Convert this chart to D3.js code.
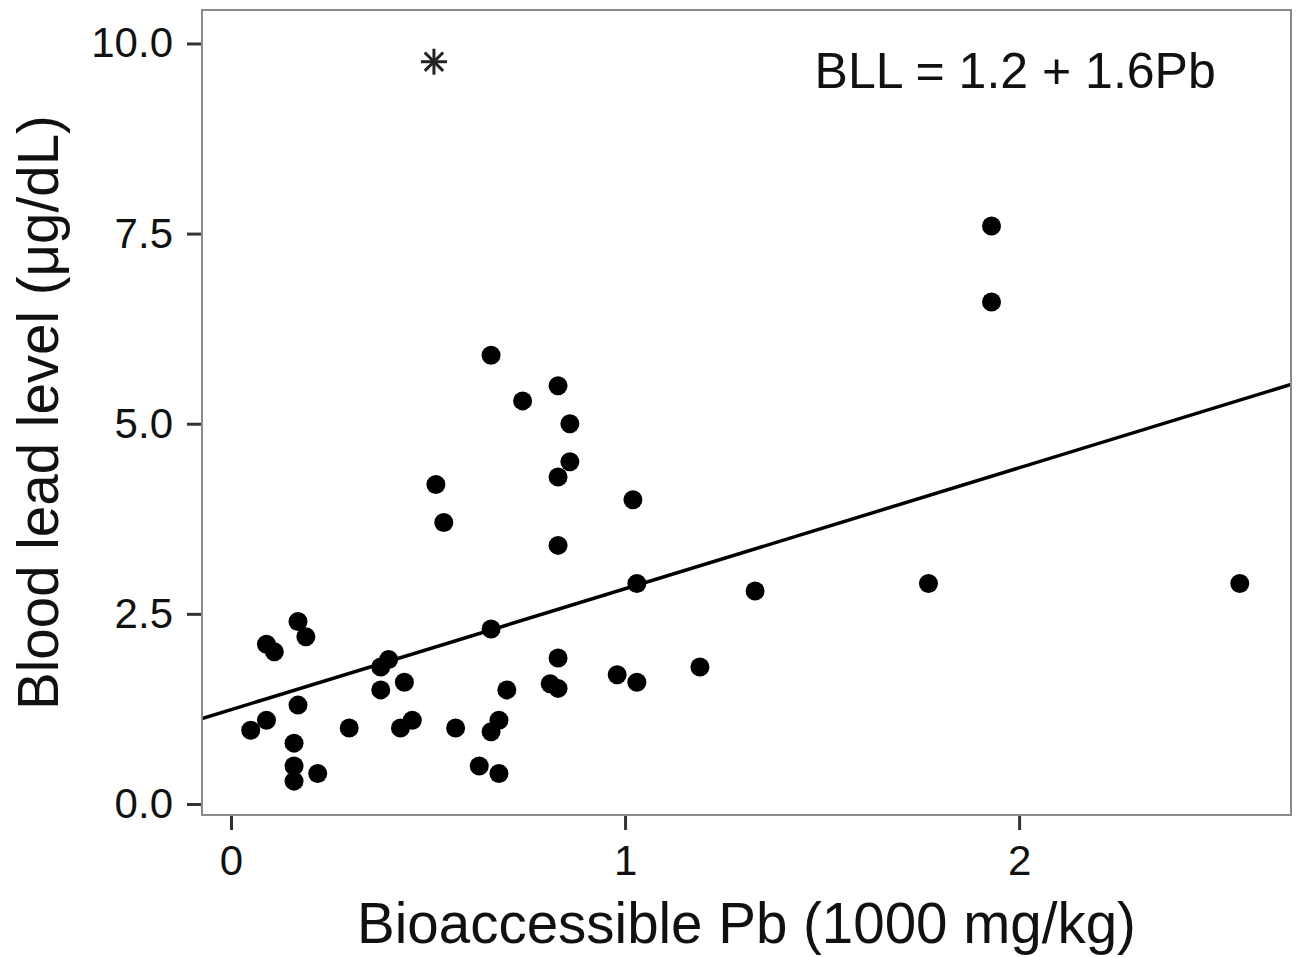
<!DOCTYPE html>
<html>
<head>
<meta charset="utf-8">
<script src="https://cdn.jsdelivr.net/npm/d3@7"></script>
<style>
  body { margin: 0; background: #fff; }
  text { font-family: "Liberation Sans", Arial, sans-serif; fill: #111; }
</style>
</head>
<body>
<div id="container"></div>
<script>
/* CONSTANTS AND GLOBALS */
const width = 1298,
  height = 957,
  margin = { top: 10, bottom: 142, left: 202, right: 7 },
  radius = 9.5;

/* DATA */
const pbValues = [0.05, 0.09, 0.09, 0.11, 0.17, 0.19, 0.17, 0.16, 0.16, 0.16,
  0.22, 0.30, 0.38, 0.38, 0.40, 0.44, 0.43, 0.46, 0.57, 0.63,
  0.68, 0.66, 0.68, 0.70, 0.66, 0.81, 0.83, 0.83, 0.66, 0.83,
  0.74, 0.86, 0.86, 0.83, 0.52, 0.54, 0.83, 1.02, 1.03, 1.19,
  0.98, 1.03, 1.33, 1.77, 1.93, 1.93, 2.56];
const bllValues = [0.97, 1.1, 2.1, 2.0, 2.4, 2.2, 1.3, 0.8, 0.5, 0.3,
  0.4, 1.0, 1.5, 1.8, 1.9, 1.6, 1.0, 1.1, 1.0, 0.5,
  0.4, 0.95, 1.1, 1.5, 2.3, 1.58, 1.52, 1.92, 5.9, 5.5,
  5.3, 5.0, 4.5, 4.3, 4.2, 3.7, 3.4, 4.0, 2.9, 1.8,
  1.7, 1.6, 2.8, 2.9, 7.6, 6.6, 2.9];
const outlier = { pb: 0.515, bll: 9.76 };   // asterisk marker
const intercept = 1.24, slope = 1.59;
const xTicks = [0, 1, 2];
const yTicks = [0, 2.5, 5, 7.5, 10];
const xDomain = [-0.0736, 2.69];
const yDomain = [-0.145, 10.44];
const equationText = "BLL = 1.2 + 1.6Pb";
const xTitle = "Bioaccessible Pb (1000 mg/kg)";
const yTitle = "Blood lead level (\u03bcg/dL)";

const data = pbValues.map((d, i) => ({ pb: d, bll: bllValues[i] }));

/* SCALES */
const xScale = d3.scaleLinear()
  .domain(xDomain)
  .range([margin.left, width - margin.right]);

const yScale = d3.scaleLinear()
  .domain(yDomain)
  .range([height - margin.bottom, margin.top]);

/* SVG */
const svg = d3.select("#container")
  .append("svg")
  .attr("width", width)
  .attr("height", height);

// axes
const xAxis = d3.axisBottom(xScale)
  .tickValues(xTicks)
  .tickFormat(d3.format("d"))
  .tickSize(15)
  .tickPadding(15);

svg.append("g")
  .attr("transform", `translate(0, ${height - margin.bottom})`)
  .call(xAxis)
  .call(g => g.select(".domain").remove())
  .call(g => g.selectAll("line").attr("stroke", "#333").attr("stroke-width", 3))
  .call(g => g.selectAll("text").attr("font-size", 42).attr("fill", "#111"));

const yAxis = d3.axisLeft(yScale)
  .tickValues(yTicks)
  .tickFormat(d3.format(".1f"))
  .tickSize(15)
  .tickPadding(14);

svg.append("g")
  .attr("transform", `translate(${margin.left}, 0)`)
  .call(yAxis)
  .call(g => g.select(".domain").remove())
  .call(g => g.selectAll("line").attr("stroke", "#333").attr("stroke-width", 3))
  .call(g => g.selectAll("text").attr("font-size", 42).attr("fill", "#111"));

// clip for the fit line
svg.append("clipPath")
  .attr("id", "panel")
  .append("rect")
  .attr("x", margin.left)
  .attr("y", margin.top)
  .attr("width", width - margin.left - margin.right)
  .attr("height", height - margin.top - margin.bottom);

// regression line
svg.append("line")
  .attr("clip-path", "url(#panel)")
  .attr("x1", xScale(xDomain[0]))
  .attr("y1", yScale(intercept + slope * xDomain[0]))
  .attr("x2", xScale(xDomain[1]))
  .attr("y2", yScale(intercept + slope * xDomain[1]))
  .attr("stroke", "#000")
  .attr("stroke-width", 3.5);

// points
svg.selectAll(".dot")
  .data(data)
  .join("circle")
  .attr("class", "dot")
  .attr("cx", d => xScale(d.pb))
  .attr("cy", d => yScale(d.bll))
  .attr("r", radius)
  .attr("fill", "#000");

// asterisk
const star = svg.append("g")
  .attr("transform", `translate(${xScale(outlier.pb)}, ${yScale(outlier.bll)})`);
[0, 45, 90, 135].forEach(a => {
  star.append("line")
    .attr("x1", -13).attr("x2", 13)
    .attr("y1", 0).attr("y2", 0)
    .attr("transform", `rotate(${a})`)
    .attr("stroke", "#222")
    .attr("stroke-width", 3);
});

// equation
svg.append("text")
  .attr("x", xScale(1.99))
  .attr("y", yScale(9.42))
  .attr("text-anchor", "middle")
  .attr("font-size", 50)
  .text(equationText);

// panel border
svg.append("rect")
  .attr("x", margin.left)
  .attr("y", margin.top)
  .attr("width", width - margin.left - margin.right)
  .attr("height", height - margin.top - margin.bottom)
  .attr("fill", "none")
  .attr("stroke", "#8a8a8a")
  .attr("stroke-width", 2);

// axis titles
svg.append("text")
  .attr("x", (margin.left + width - margin.right) / 2)
  .attr("y", 943)
  .attr("text-anchor", "middle")
  .attr("font-size", 56.5)
  .text(xTitle);

svg.append("text")
  .attr("transform", `translate(58, ${(margin.top + height - margin.bottom) / 2}) rotate(-90)`)
  .attr("text-anchor", "middle")
  .attr("font-size", 56.5)
  .text(yTitle);
</script>
</body>
</html>
